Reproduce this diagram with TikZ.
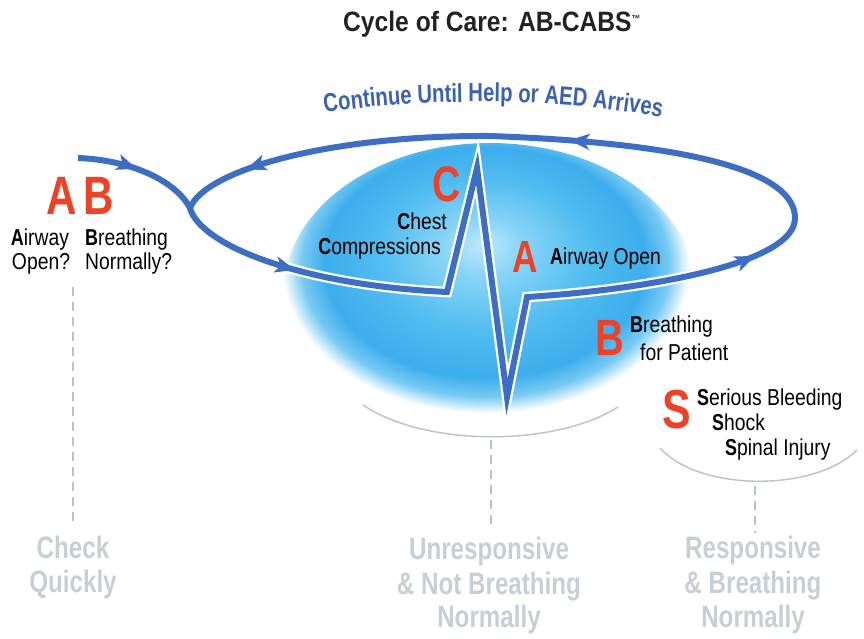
\documentclass[tikz,border=0pt]{standalone}
\usepackage{fontspec}
\setmainfont[FakeStretch=0.84,BoldFeatures={FakeStretch=0.78}]{Liberation Sans}
\newfontfamily\titlefont[FakeStretch=0.88]{Liberation Sans}
\usetikzlibrary{arrows.meta,decorations.markings,decorations.text}
\definecolor{lineblue}{RGB}{62,110,196}
\definecolor{redA}{RGB}{238,66,38}
\definecolor{graytxt}{RGB}{200,206,214}
\definecolor{grayline}{RGB}{185,193,202}
\definecolor{txtblue}{RGB}{58,98,180}
\definecolor{titlegray}{RGB}{34,34,34}
\definecolor{g0}{RGB}{190,233,251}
\definecolor{g1}{RGB}{135,212,247}
\definecolor{g2}{RGB}{80,188,240}
\definecolor{g3}{RGB}{60,174,236}
\definecolor{g4}{RGB}{120,202,243}
\pgfdeclareradialshading{glow}{\pgfpoint{-1bp}{8bp}}{color(0bp)=(g0); color(5bp)=(g1); color(13bp)=(g2); color(19.5bp)=(g3); color(22.3bp)=(g4); color(24.7bp)=(white); color(50bp)=(white)}
\tikzset{
  blk/.style={inner sep=0pt, font=\fontsize{23}{25}\selectfont, text=black},
  redl/.style={inner sep=0pt, text=redA, font=\bfseries\fontsize{#1}{#1}\selectfont},
  graylbl/.style={inner sep=0pt, text=graytxt, font=\bfseries\fontsize{31}{34}\selectfont, anchor=base},
  grayarc/.style={draw=grayline, line width=1.4pt},
  graydash/.style={draw=grayline, line width=1.2pt, dash pattern=on 9pt off 6pt},
  loopline/.style={draw=lineblue, line width=6pt},
  arrowat/.style={decoration={markings, mark=at position #1 with {\arrow[lineblue, line width=6pt]{Stealth[length=20pt,width=16pt,inset=5pt]}}}, decorate}
}
\begin{document}
\begin{tikzpicture}[x=1pt,y=-1pt]
\useasboundingbox (0,0) rectangle (864,638);
% glowing ellipse
\path[shading=glow] (490,291) ellipse [x radius=206, y radius=148];
% gray arcs and dashed leaders
\coordinate (arcAl) at (363,405);
\coordinate (arcAr) at (618,407);
\coordinate (arcBl) at (660,448);
\coordinate (arcBr) at (857,450);
\draw[grayarc] (arcAl) .. controls (425,447) and (555,447) .. (arcAr);
\draw[grayarc] (arcBl) .. controls (700,492) and (815,492) .. (arcBr);
\coordinate (d1a) at (73,287); \coordinate (d1b) at (73,525);
\coordinate (d2a) at (491,440); \coordinate (d2b) at (491,526);
\coordinate (d3a) at (755,486); \coordinate (d3b) at (755,533);
\draw[graydash] (d1a) -- (d1b);
\draw[graydash] (d2a) -- (d2b);
\draw[graydash] (d3a) -- (d3b);
% loop coordinates
\coordinate (inS) at (78,158);
\coordinate (cusp) at (190,208);
\coordinate (ecgL) at (447,292);
\coordinate (ecgT) at (477,168);
\coordinate (ecgB) at (507,397);
\coordinate (ecgR) at (527,297);
\coordinate (rEnd) at (795,218);
\coordinate (topM) at (490,136);
% white outline under the ECG part
\draw[white, line width=10.5pt, line join=miter] (cusp) .. controls (200,245) and (300,285) .. (ecgL) -- (ecgT) -- (ecgB) -- (ecgR) .. controls (640,290) and (795,265) .. (rEnd);
% blue loop
\draw[loopline, line join=miter] (cusp) .. controls (200,245) and (300,285) .. (ecgL) -- (ecgT) -- (ecgB) -- (ecgR) .. controls (640,290) and (795,265) .. (rEnd);
\draw[loopline, line cap=round] (rEnd) .. controls (795,165) and (660,142) .. (topM) .. controls (330,135) and (205,170) .. (cusp);
\draw[loopline] (inS) .. controls (130,160) and (175,180) .. (cusp);
% arrowheads
\path[arrowat=0.47] (inS) .. controls (130,160) and (175,180) .. (cusp);
\path[arrowat=0.45] (cusp) .. controls (200,245) and (300,285) .. (ecgL);
\path[arrowat=0.8] (ecgR) .. controls (640,290) and (795,265) .. (rEnd);
\path[arrowat=0.76] (rEnd) .. controls (795,165) and (660,142) .. (topM);
\path[arrowat=0.78] (topM) .. controls (330,135) and (205,170) .. (cusp);
% title
\node[anchor=base west, inner sep=0pt, text=titlegray, font=\titlefont\bfseries\fontsize{28}{28}\selectfont] (title) at (343,31) {Cycle of Care: AB-CABS\raisebox{9pt}{\fontsize{10}{10}\selectfont ™}};
% curved blue caption
\path[decorate, decoration={text along path, text={|\bfseries\fontsize{26}{26}\selectfont|Continue Until Help or AED Arrives}, text color=txtblue, text align=center}] (316,114) .. controls (420,97) and (560,97) .. (670,119);
% left AB
\node[redl=54, anchor=base west] (rA1) at (46,214) {A};
\node[redl=54, anchor=base west] (rB1) at (83,214) {B};
\node[blk, anchor=base] (aw1) at (40,245) {{\bfseries A}irway};
\node[blk, anchor=base] (aw2) at (41,269) {Open?};
\node[blk, anchor=base west] (bn1) at (85,245) {{\bfseries B}reathing};
\node[blk, anchor=base west] (bn2) at (85,269) {Normally?};
% C
\node[redl=50, anchor=base west] (rC) at (432,201) {C};
\node[blk, anchor=base east] (cc1) at (447,229) {{\bfseries C}hest};
\node[blk, anchor=base east] (cc2) at (441,254) {{\bfseries C}ompressions};
% A
\node[redl=45, anchor=base west] (rA2) at (512,272) {A};
\node[blk, anchor=base west] (ao) at (550,264) {{\bfseries A}irway Open};
% B
\node[redl=51, anchor=base west] (rB2) at (595,355) {B};
\node[blk, anchor=base west] (bp1) at (630,332) {{\bfseries B}reathing};
\node[blk, anchor=base west] (bp2) at (640,360) {for Patient};
% S
\node[redl=55, anchor=base west] (rS) at (662,428) {S};
\node[blk, anchor=base west] (s1) at (697,405) {{\bfseries S}erious Bleeding};
\node[blk, anchor=base west] (s2) at (712,430) {{\bfseries S}hock};
\node[blk, anchor=base west] (s3) at (725,455) {{\bfseries S}pinal Injury};
% bottom gray labels
\node[graylbl] (ck1) at (73,558) {Check};
\node[graylbl] (ck2) at (73,592) {Quickly};
\node[graylbl] (un1) at (489,559) {Unresponsive};
\node[graylbl] (un2) at (489,594) {\& Not Breathing};
\node[graylbl] (un3) at (489,627) {Normally};
\node[graylbl] (rs1) at (753,558) {Responsive};
\node[graylbl] (rs2) at (753,593) {\& Breathing};
\node[graylbl] (rs3) at (753,627) {Normally};
\end{tikzpicture}
\end{document}
